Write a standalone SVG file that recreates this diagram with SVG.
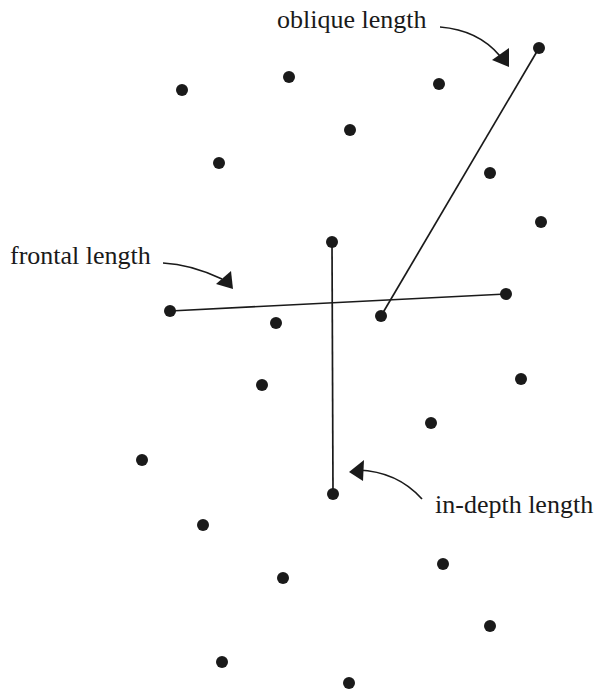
<svg xmlns="http://www.w3.org/2000/svg" width="596" height="692" viewBox="0 0 596 692">
<style>
.dot{fill:#1a1a1a}
.ln{stroke:#1a1a1a;stroke-width:1.7;fill:none}
.lbl{font-family:"Liberation Serif","Times New Roman",serif;font-size:26px;fill:#1a1a1a}
.head{fill:#1a1a1a}
</style>
<rect width="596" height="692" fill="#fff"/>
<g id="connectors">
<line class="ln" x1="539" y1="48" x2="381" y2="316"/>
<line class="ln" x1="170" y1="311" x2="506" y2="294"/>
<line class="ln" x1="332" y1="242" x2="333" y2="494"/>
<path class="ln" stroke-width="3" d="M440,27 C465,29 485,38 500,56"/>
<polygon class="head" points="492,60 509,48 509,67"/>
<path class="ln" stroke-width="3" d="M163,263 C185,264 205,271 222,279"/>
<polygon class="head" points="216,284 231,271 233,289"/>
<path class="ln" stroke-width="3" d="M422,499 C405,480 385,471 358,470"/>
<polygon class="head" points="349,472 364,460 363,481"/>
</g>
<g id="labels">
<text class="lbl" x="277" y="28">oblique length</text>
<text class="lbl" x="10" y="264">frontal length</text>
<text class="lbl" x="435" y="513">in-depth length</text>
</g>
<g id="dots">
<circle class="dot" cx="182" cy="90" r="6"/>
<circle class="dot" cx="289" cy="77" r="6"/>
<circle class="dot" cx="439" cy="84" r="6"/>
<circle class="dot" cx="539" cy="48" r="6"/>
<circle class="dot" cx="350" cy="130" r="6"/>
<circle class="dot" cx="219" cy="163" r="6"/>
<circle class="dot" cx="490" cy="173" r="6"/>
<circle class="dot" cx="541" cy="222" r="6"/>
<circle class="dot" cx="332" cy="242" r="6"/>
<circle class="dot" cx="170" cy="311" r="6"/>
<circle class="dot" cx="506" cy="294" r="6"/>
<circle class="dot" cx="276" cy="323" r="6"/>
<circle class="dot" cx="381" cy="316" r="6"/>
<circle class="dot" cx="262" cy="385" r="6"/>
<circle class="dot" cx="521" cy="379" r="6"/>
<circle class="dot" cx="431" cy="423" r="6"/>
<circle class="dot" cx="142" cy="460" r="6"/>
<circle class="dot" cx="333" cy="494" r="6"/>
<circle class="dot" cx="203" cy="525" r="6"/>
<circle class="dot" cx="443" cy="564" r="6"/>
<circle class="dot" cx="283" cy="578" r="6"/>
<circle class="dot" cx="490" cy="626" r="6"/>
<circle class="dot" cx="222" cy="662" r="6"/>
<circle class="dot" cx="349" cy="683" r="6"/>
</g>
</svg>
